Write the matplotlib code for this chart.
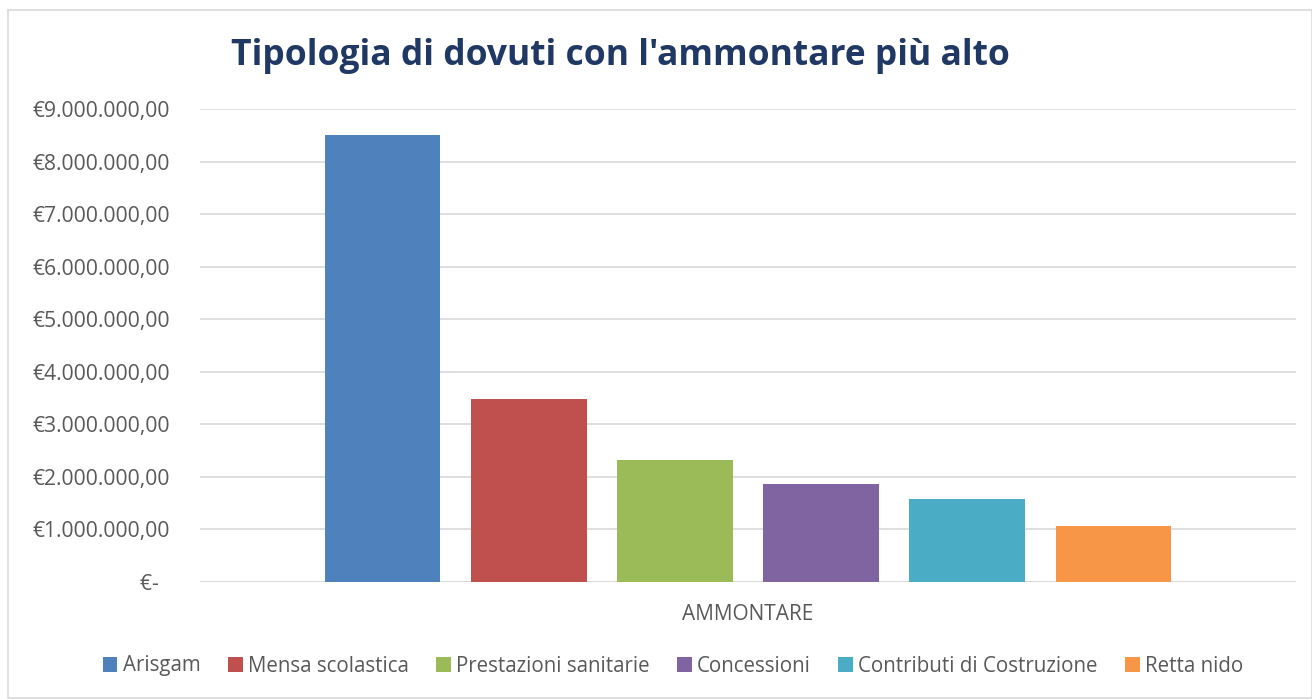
import matplotlib
matplotlib.use("Agg")
import matplotlib.pyplot as plt
from matplotlib.patches import Rectangle, Patch
from matplotlib.ticker import FuncFormatter

categories = ["Arisgam", "Mensa scolastica", "Prestazioni sanitarie", "Concessioni",
              "Contributi di Costruzione", "Retta nido"]
values = [8500000, 3480000, 2320000, 1865000, 1580000, 1065000]
colors = ["#4F81BD", "#C0504D", "#9BBB59", "#8064A2", "#4BACC6", "#F79646"]
title = "Tipologia di dovuti con l'ammontare più alto"
xlabel = "AMMONTARE"

W, H = 1312, 699
fig = plt.figure(figsize=(W / 100, H / 100), dpi=100)
fig.patch.set_facecolor("white")
fig.patches.append(Rectangle((8 / W, 1 / H), (W - 8) / W, (H - 11) / H, transform=fig.transFigure,
                             fill=False, edgecolor="#D9D9D9", linewidth=1.2))

ax = fig.add_axes([200 / W, 1 - 582 / H, 1096 / W, (582 - 109) / H])
font = "Open Sans"
gray = "#595959"

x = list(range(len(categories)))
ax.bar(x, values, width=0.788, color=colors, zorder=3)
ax.set_xlim(-1.253, len(categories) - 1 + 1.253)
ax.set_ylim(0, 9000000)
ax.set_yticks(range(0, 9000001, 1000000))


def fmt(v, pos):
    if v == 0:
        return "€-  "
    s = f"{int(v):,}".replace(",", ".")
    return f"€{s},00"


ax.yaxis.set_major_formatter(FuncFormatter(fmt))
ax.grid(axis="y", color="#D9D9D9", linewidth=1.2, zorder=0)
for s in ax.spines.values():
    s.set_visible(False)
ax.tick_params(axis="y", length=0, pad=21.6, labelsize=15.2, labelcolor=gray)
for lbl in ax.get_yticklabels():
    lbl.set_fontfamily(font)
ax.set_xticks([])
ax.axhline(0, color="#D9D9D9", linewidth=1.2, zorder=2)

fig.text(748 / W, 1 - 614 / H, xlabel, ha="center", va="center", fontsize=15, color=gray, family=font)
fig.text(620 / W, 1 - 56 / H, title, ha="center", va="center", fontsize=25.5, fontweight="bold",
         color="#1F3864", family=font)

handles = [Patch(facecolor=c, edgecolor="none") for c in colors]
leg = fig.legend(handles, categories, loc="center", bbox_to_anchor=(673 / W, 1 - 666 / H), ncol=6,
                 frameon=False, handlelength=0.7, handleheight=0.7, handletextpad=0.25, columnspacing=1.35,
                 prop={"family": font, "size": 14.8})
for t in leg.get_texts():
    t.set_color(gray)

fig.savefig("out.png", dpi=100, facecolor="white")
